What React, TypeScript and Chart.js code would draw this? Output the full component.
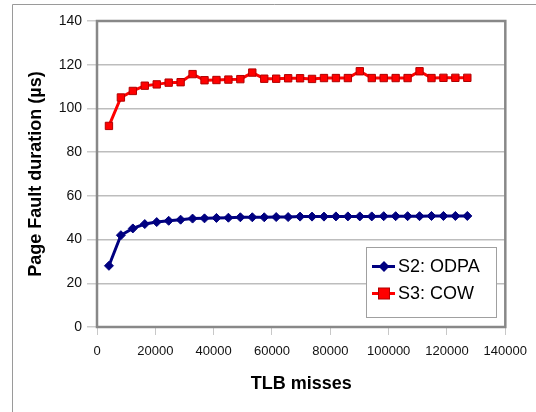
import React, { useEffect, useRef } from "react";
import { Chart, registerables } from "chart.js";

Chart.register(...registerables);

const tlbMisses = [
  4096, 8192, 12288, 16384, 20480, 24576, 28672, 32768, 36864, 40960, 45056,
  49152, 53248, 57344, 61440, 65536, 69632, 73728, 77824, 81920, 86016, 90112,
  94208, 98304, 102400, 106496, 110592, 114688, 118784, 122880, 126976,
];
const odpaValues = [
  28, 42, 45.1, 47.1, 48, 48.6, 49.1, 49.6, 49.7, 49.9, 50, 50.2, 50.2, 50.2,
  50.3, 50.3, 50.5, 50.5, 50.5, 50.6, 50.6, 50.6, 50.6, 50.7, 50.7, 50.7, 50.7,
  50.8, 50.8, 50.8, 50.8,
];
const cowValues = [
  92, 105, 108, 110.4, 111, 111.8, 112, 115.7, 112.9, 113, 113.2, 113.4, 116.4,
  113.6, 113.6, 113.8, 113.8, 113.5, 113.9, 113.9, 113.9, 117, 113.9, 113.9,
  113.9, 113.9, 117, 113.9, 114, 114, 114,
];
const seriesNames = ["S2: ODPA", "S3: COW"];
const yTitle = "Page Fault duration (µs)";
const xTitle = "TLB misses";

const FONT = "'Liberation Sans', Arial, sans-serif";

const framePlugin = {
  id: "frame",
  beforeDraw(chart: any) {
    const ctx = chart.ctx;
    ctx.save();
    ctx.fillStyle = "#ffffff";
    ctx.fillRect(0, 0, chart.width, chart.height);
    ctx.strokeStyle = "#9a9a9a";
    ctx.lineWidth = 1;
    ctx.beginPath();
    ctx.moveTo(12.5, chart.height);
    ctx.lineTo(12.5, 4.5);
    ctx.lineTo(chart.width, 4.5);
    ctx.stroke();
    ctx.restore();
  },
  beforeDatasetsDraw(chart: any) {
    const { left, right, top, bottom } = chart.chartArea;
    const ctx = chart.ctx;
    ctx.save();
    ctx.strokeStyle = "#888888";
    ctx.lineWidth = 2.5;
    ctx.strokeRect(left, top, right - left, bottom - top);
    ctx.restore();
  },
  afterDraw(chart: any) {
    const ctx = chart.ctx;
    const bx = 366, by = 247, bw = 130, bh = 70;
    ctx.save();
    ctx.fillStyle = "#ffffff";
    ctx.fillRect(bx, by, bw, bh);
    ctx.strokeStyle = "#a0a0a0";
    ctx.lineWidth = 1;
    ctx.strokeRect(bx + 0.5, by + 0.5, bw, bh);
    const rows = [266.5, 293.5];
    chart.data.datasets.forEach((ds: any, i: number) => {
      const y = rows[i];
      ctx.strokeStyle = ds.borderColor;
      ctx.lineWidth = 3;
      ctx.beginPath();
      ctx.moveTo(372, y);
      ctx.lineTo(395, y);
      ctx.stroke();
      const cx = 384;
      ctx.fillStyle = ds.pointBackgroundColor;
      ctx.strokeStyle = ds.pointBorderColor;
      ctx.lineWidth = 1;
      if (ds.pointStyle === "rect") {
        ctx.fillRect(cx - 5.5, y - 5.5, 11, 11);
        ctx.strokeRect(cx - 5.5, y - 5.5, 11, 11);
      } else {
        ctx.beginPath();
        ctx.moveTo(cx, y - 5.5);
        ctx.lineTo(cx + 5.5, y);
        ctx.lineTo(cx, y + 5.5);
        ctx.lineTo(cx - 5.5, y);
        ctx.closePath();
        ctx.fill();
      }
      ctx.fillStyle = "#000000";
      ctx.font = `18px ${FONT}`;
      ctx.textBaseline = "middle";
      ctx.textAlign = "left";
      ctx.fillText(ds.label, 398, y + 1);
    });
    ctx.restore();
  },
};

export default function App() {
  const canvasRef = useRef<HTMLCanvasElement | null>(null);

  useEffect(() => {
    document.body.style.margin = "0";
    const canvas = canvasRef.current;
    if (!canvas) return;
    const chart = new Chart(canvas, {
      type: "line",
      data: {
        datasets: [
          {
            label: seriesNames[0],
            data: tlbMisses.map((x, i) => ({ x, y: odpaValues[i] })),
            borderColor: "#000080",
            backgroundColor: "#000080",
            pointBackgroundColor: "#000080",
            pointBorderColor: "#000080",
            borderWidth: 3,
            pointStyle: "rectRot",
            pointRadius: 4.5,
            pointBorderWidth: 1,
            tension: 0,
          },
          {
            label: seriesNames[1],
            data: tlbMisses.map((x, i) => ({ x, y: cowValues[i] })),
            borderColor: "#ff0000",
            backgroundColor: "#ff0000",
            pointBackgroundColor: "#ff0000",
            pointBorderColor: "#b00000",
            borderWidth: 3,
            pointStyle: "rect",
            pointRadius: 5.2,
            pointBorderWidth: 1,
            tension: 0,
          },
        ],
      },
      options: {
        responsive: false,
        animation: false,
        layout: { padding: { top: 21, right: 26, left: 0, bottom: 0 } },
        plugins: {
          legend: { display: false },
          tooltip: { enabled: false },
        },
        scales: {
          x: {
            type: "linear",
            min: 0,
            max: 140000,
            afterFit(scale: any) {
              scale.height = 85;
            },
            ticks: {
              stepSize: 20000,
              color: "#111111",
              padding: 9,
              maxRotation: 0,
              font: { family: FONT, size: 13 },
              callback: (v: any) => String(v),
            },
            grid: {
              drawOnChartArea: false,
              drawTicks: true,
              tickLength: 8,
              tickColor: "#c8c8c8",
            },
            border: { display: false },
            title: {
              display: true,
              text: xTitle,
              color: "#000000",
              font: { family: FONT, size: 18, weight: "bold" },
              padding: { top: 0, bottom: 17 },
            },
          },
          y: {
            min: 0,
            max: 140,
            afterFit(scale: any) {
              scale.width = 97;
            },
            ticks: {
              stepSize: 20,
              color: "#111111",
              padding: 5,
              font: { family: FONT, size: 14 },
            },
            grid: {
              color: "#bdbdbd",
              lineWidth: 1.5,
              tickLength: 10,
              tickColor: "#cccccc",
            },
            border: { display: false },
            title: {
              display: true,
              text: yTitle,
              color: "#000000",
              font: { family: FONT, size: 18, weight: "bold" },
              padding: { top: 25, bottom: 0 },
            },
          },
        },
      },
      plugins: [framePlugin],
    });
    return () => chart.destroy();
  }, []);

  return (
    <div style={{ width: 536, height: 412 }}>
      <canvas ref={canvasRef} width={536} height={412} />
    </div>
  );
}
